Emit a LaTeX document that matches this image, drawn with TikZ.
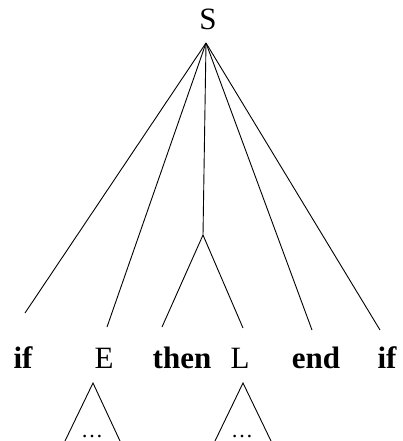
\documentclass[tikz,border=0pt]{standalone}
\usepackage{fontspec}
\setmainfont{Liberation Serif}
\usetikzlibrary{positioning}

\begin{document}
\begin{tikzpicture}[
x=1pt, y=-1pt,
word/.style={inner sep=0pt, anchor=base, font=\fontsize{31}{36}\selectfont},
kw/.style={word, font=\fontsize{31}{36}\selectfont\bfseries},
edge/.style={line width=0.9pt},
dots/.style={inner sep=0pt, anchor=base, font=\fontsize{22}{24}\selectfont}
]
\useasboundingbox (0,0) rectangle (403,441);
% root and the point where its branches meet
\node[word] (s) at (208,30) {S};
\coordinate (top) at (206,43);
\coordinate (mid) at (203,235);

% words on the bottom line
\node[kw] (if1) at (23,368) {if};
\node[word] (e) at (104,368) {E};
\node[kw] (then) at (182,368) {then};
\node[word] (l) at (240,368) {L};
\node[kw] (end) at (316,368) {end};
\node[kw] (if2) at (387,368) {if};

% free ends of the branches, above the words
\coordinate (if1top) at (25,313);
\coordinate (etop) at (107,327);
\coordinate (thentop) at (162,327);
\coordinate (ltop) at (243,328);
\coordinate (endtop) at (312,330);
\coordinate (if2top) at (380,330);

\draw[edge] (top) -- (if1top);
\draw[edge] (top) -- (etop);
\draw[edge] (top) -- (mid);
\draw[edge] (top) -- (endtop);
\draw[edge] (top) -- (if2top);
\draw[edge] (mid) -- (thentop);
\draw[edge] (mid) -- (ltop);

% subtrees under E and L
\coordinate (etri) at (93,383);
\coordinate (eleft) at (65,441);
\coordinate (eright) at (120,441);
\coordinate (ltri) at (243,383);
\coordinate (lleft) at (215,441);
\coordinate (lright) at (271,441);
\node[dots] (edots) at (92,437) {\dots};
\node[dots] (ldots) at (242,437) {\dots};
\draw[edge] (eleft) -- (etri) -- (eright);
\draw[edge] (lleft) -- (ltri) -- (lright);
\end{tikzpicture}
\end{document}
